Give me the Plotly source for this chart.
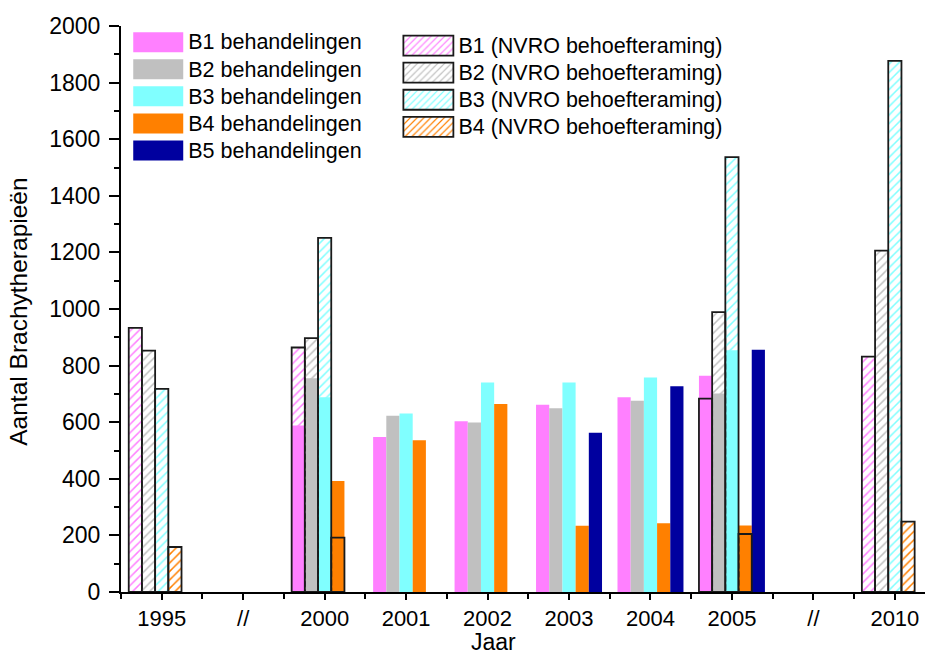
import plotly.graph_objects as go

# Year categories on the x axis ("//" marks a break in the time line)
categories = ["1995", "//", "2000", "2001", "2002", "2003", "2004", "2005", "//", "2010"]

# Actual numbers of treatments per type
b1_treated = [None, None, 588, 548, 603, 662, 688, 764, None, None]
b2_treated = [None, None, 755, 623, 599, 649, 676, 701, None, None]
b3_treated = [None, None, 688, 631, 740, 740, 758, 854, None, None]
b4_treated = [None, None, 392, 536, 664, 234, 243, 235, None, None]
b5_treated = [None, None, None, None, None, 563, 727, 856, None, None]

# NVRO estimate of the required numbers
b1_nvro = [933, None, 864, None, None, None, None, 683, None, 832]
b2_nvro = [853, None, 897, None, None, None, None, 989, None, 1206]
b3_nvro = [718, None, 1251, None, None, None, None, 1537, None, 1877]
b4_nvro = [159, None, 192, None, None, None, None, 205, None, 249]

y_ticks = list(range(0, 2001, 200))

positions = list(range(len(categories)))

FONT = "Arial, Liberation Sans, sans-serif"
SLOT = 0.162
OFFSETS = [-0.405, -0.243, -0.081, 0.081, 0.243]

solid_series = [
    ("B1 behandelingen", b1_treated, "#ff80ff"),
    ("B2 behandelingen", b2_treated, "#c0c0c0"),
    ("B3 behandelingen", b3_treated, "#80ffff"),
    ("B4 behandelingen", b4_treated, "#ff8000"),
    ("B5 behandelingen", b5_treated, "#00009f"),
]
hatched_series = [
    ("B1 (NVRO behoefteraming)", b1_nvro, "#ff80ff"),
    ("B2 (NVRO behoefteraming)", b2_nvro, "#c0c0c0"),
    ("B3 (NVRO behoefteraming)", b3_nvro, "#80ffff"),
    ("B4 (NVRO behoefteraming)", b4_nvro, "#ff8000"),
]


def legend_label(text):
    # larger glyphs than the legend row spacing font, to keep rows tight
    return '<span style="font-size:21.5px">' + text + "</span>"


fig = go.Figure()

for i, (name, vals, color) in enumerate(solid_series):
    fig.add_trace(go.Bar(
        x=positions, y=vals, name=legend_label(name),
        width=SLOT, offset=OFFSETS[i],
        marker=dict(color=color, line=dict(width=0)),
        legend="legend",
    ))

for i, (name, vals, color) in enumerate(hatched_series):
    fig.add_trace(go.Bar(
        x=positions, y=vals, name=legend_label(name),
        width=SLOT, offset=OFFSETS[i],
        marker=dict(
            color="rgba(0,0,0,0)",
            line=dict(color="#1a1a1a", width=1.8),
            pattern=dict(shape="/", fgcolor=color, bgcolor="rgba(0,0,0,0)",
                         size=6, solidity=0.25, fillmode="replace"),
        ),
        legend="legend2",
    ))

legend_common = dict(
    xanchor="left", yanchor="top",
    font=dict(family=FONT, size=18.5, color="black"),
    itemwidth=50, bgcolor="rgba(0,0,0,0)", tracegroupgap=0,
)

fig.update_layout(
    width=928, height=657,
    margin=dict(l=121, r=3, t=26, b=65),
    paper_bgcolor="white", plot_bgcolor="white",
    barmode="overlay",
    font=dict(family=FONT, color="black"),
    legend=dict(x=0.009, y=1.004, **legend_common),
    legend2=dict(x=0.345, y=0.998, **legend_common),
    xaxis=dict(
        range=[-0.5, 9.37],
        tickmode="array", tickvals=positions, ticktext=categories,
        ticks="outside", ticklen=6, tickwidth=2, tickcolor="black",
        ticklabelstandoff=0,
        tickfont=dict(family=FONT, size=22, color="black"),
        minor=dict(tickmode="array", tickvals=[p - 0.5 for p in positions] + [positions[-1] + 0.5],
                   ticks="outside", ticklen=5, tickwidth=2, tickcolor="black"),
        showline=True, linecolor="black", linewidth=2,
        showgrid=False, zeroline=False,
    ),
    yaxis=dict(
        range=[0, 2000],
        tickmode="array", tickvals=y_ticks,
        ticks="outside", ticklen=10, tickwidth=2, tickcolor="black",
        ticklabelstandoff=4,
        tickfont=dict(family=FONT, size=23, color="black"),
        minor=dict(tickmode="linear", tick0=0, dtick=100,
                   ticks="outside", ticklen=5, tickwidth=2, tickcolor="black"),
        showline=True, linecolor="black", linewidth=2,
        showgrid=False, zeroline=False,
    ),
    annotations=[
        dict(text="Jaar", xref="paper", yref="paper", x=0.463, y=-0.1135,
             xanchor="center", yanchor="bottom", showarrow=False, borderpad=0,
             font=dict(family=FONT, size=23, color="black")),
        dict(text="Aantal Brachytherapieën", xref="paper", yref="paper",
             x=-0.127, y=0.495, xanchor="center", yanchor="middle",
             textangle=-90, showarrow=False,
             font=dict(family=FONT, size=24.5, color="black")),
    ],
)

# Widen the legend swatches to broad rectangles
post = """
var gd = document.getElementsByClassName('plotly-graph-div')[0];
gd.querySelectorAll('g.legendpoints path').forEach(function(p){
    p.setAttribute('d', 'M25,10H-25V-10H25Z');
});
"""

fig.write_html("out.html", post_script=post)
